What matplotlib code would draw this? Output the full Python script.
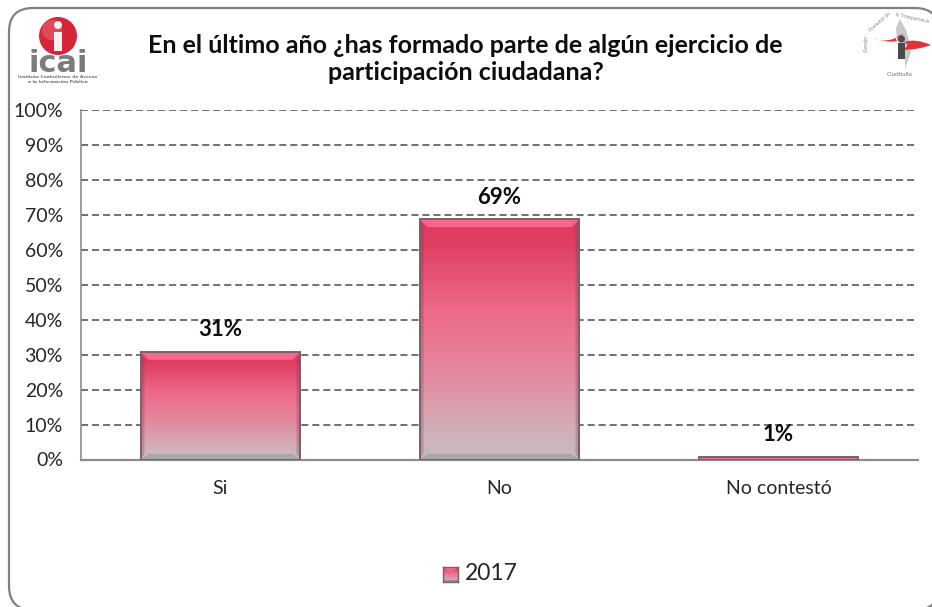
import numpy as np
import matplotlib
matplotlib.use("Agg")
import matplotlib.pyplot as plt
from matplotlib.colors import LinearSegmentedColormap
from matplotlib.patches import FancyBboxPatch, Rectangle, Circle, Polygon, PathPatch
from matplotlib.path import Path

categories = ["Si", "No", "No contestó"]
values = [30.8, 68.8, 0.8]
labels = ["31%", "69%", "1%"]
series_name = "2017"
yticks = list(range(0, 101, 10))
title = "En el último año ¿has formado parte de algún ejercicio de\nparticipación ciudadana?"

W, H = 932, 607
plt.rcParams["font.family"] = ["Lato", "DejaVu Sans"]
fig = plt.figure(figsize=(W / 100, H / 100), dpi=100, facecolor="white")

def fx(x): return x / W
def fy(y): return 1 - y / H

bg = fig.add_axes([0, 0, 1, 1], zorder=0)
bg.set_xlim(0, W); bg.set_ylim(H, 0); bg.axis("off")
bg.add_patch(FancyBboxPatch((9, 8), 930, 602, boxstyle="round,pad=0,rounding_size=24",
                            fc="white", ec="#808080", lw=1.6))

# left logo
bg.add_patch(Circle((58, 36), 19, fc="#d5263a", ec="none"))
bg.add_patch(Circle((52, 30), 10, fc="#ee6b78", ec="none", alpha=.5))
bg.add_patch(Rectangle((54, 32), 7.5, 19, fc="#f2f2f2", ec="none"))
bg.add_patch(Circle((58, 25), 4, fc="#f2f2f2", ec="none"))
bg.text(58.5, 72, "icai", ha="center", va="baseline", fontsize=22, fontweight="bold",
        color="#7c7c7c", family=["DejaVu Sans"])
bg.text(58, 76.5, "Instituto Coahuilense de Acceso", ha="center", va="center", fontsize=3.2,
        fontweight="bold", color="#707070", family=["DejaVu Sans"])
bg.text(58, 82, "a la Información Pública", ha="center", va="center", fontsize=3.2,
        fontweight="bold", color="#707070", family=["DejaVu Sans"])

# right logo
def swoosh(verts, col):
    codes = [Path.MOVETO] + [Path.CURVE3] * (len(verts) - 1)
    bg.add_patch(PathPatch(Path(verts, codes), fc=col, ec="none"))

bg.add_patch(Polygon([(900, 19), (906, 30), (909, 40), (911, 52), (905, 69), (905, 52),
                      (897, 40), (896, 28)], fc="#c9c9c9", ec="none"))
swoosh([(873, 39), (890, 43), (897, 41), (893, 36), (904, 34), (888, 44), (873, 39)], "#e2333a")
swoosh([(931, 45), (915, 38), (904, 42), (912, 46), (901, 50), (918, 50), (931, 45)], "#e2333a")
bg.add_patch(Rectangle((898, 43), 7, 16, fc="#4a4a4a", ec="none"))
bg.add_patch(Circle((901.5, 39), 3.5, fc="#4a4a4a", ec="none"))
bg.text(900, 74, "Ciudhulla", ha="center", va="center", fontsize=4.5, color="#777777")
bg.text(866, 44, "Consejo", ha="center", va="center", fontsize=3.4, color="#888888", rotation=90)
bg.text(880, 22, "Promotor de", ha="center", va="center", fontsize=3.4, color="#888888", rotation=42)
bg.text(912, 18, "la Transparencia", ha="center", va="center", fontsize=3.4, color="#888888", rotation=-12)

fig.text(fx(465.5), fy(59), title, ha="center", va="center", fontsize=18, fontweight="bold",
         color="#0d0d0d", linespacing=1.2, zorder=5)

# chart
ax = fig.add_axes([fx(81), fy(459.5), fx(918 - 81), (459.5 - 110) / H], zorder=2)
ax.patch.set_alpha(0)
x = np.arange(len(categories))
ax.set_ylim(0, 100)
ax.set_yticks(yticks)
ax.set_yticklabels([f"{v}%" for v in yticks], fontsize=14, color="#262626")
ax.set_xticks(x)
ax.set_xticklabels(categories, fontsize=14, color="#262626")
ax.tick_params(axis="both", length=0)
ax.tick_params(axis="y", pad=13)
ax.tick_params(axis="x", pad=15)
ax.yaxis.grid(True, color="#666666", lw=1.3, ls=(0, (3.9, 2.2)))
ax.set_axisbelow(True)
for side in ["top", "right"]:
    ax.spines[side].set_visible(False)
ax.spines["left"].set_color("#8c8c8c")
ax.spines["bottom"].set_color("#8c8c8c")
ax.spines["left"].set_linewidth(1.2)
ax.spines["bottom"].set_linewidth(1.6)

cmap = LinearSegmentedColormap.from_list("bar", [
    (0.0, "#c2bcbe"), (0.08, "#cdb6bc"), (0.35, "#e38aa0"), (0.62, "#ee6a88"),
    (0.9, "#df3f63"), (1.0, "#e23a60")])
grad = np.linspace(1, 0, 256).reshape(-1, 1)
bw = 0.573
bars = ax.bar(x, values, bw, fc="none", ec="#7b6068", lw=1.4, zorder=5)
dx, dy = 8 / 279, 8 / 3.495
for b in bars:
    l, w, h = b.get_x(), b.get_width(), b.get_height()
    r = l + w
    ax.imshow(grad, cmap=cmap, vmin=0, vmax=1, extent=(l, r, 0, h), aspect="auto", zorder=3,
              interpolation="bilinear")
    if h > 5:
        ax.add_patch(Polygon([(l, h), (r, h), (r - dx, h - dy), (l + dx, h - dy)],
                             fc="#f8668c", ec="none", zorder=3.5))
        ax.add_patch(Polygon([(l, 0), (r, 0), (r - dx, dy * .7), (l + dx, dy * .7)],
                             fc="#aaa7a8", ec="none", zorder=3.5))
        ax.add_patch(Polygon([(l, 0), (l + dx * .5, dy * .7), (l + dx * .5, h - dy), (l, h)],
                             fc="#7a2a40", alpha=.25, ec="none", zorder=3.6))
        ax.add_patch(Polygon([(r, 0), (r - dx * .5, dy * .7), (r - dx * .5, h - dy), (r, h)],
                             fc="#7a2a40", alpha=.25, ec="none", zorder=3.6))
ax.set_xlim(-0.5, 2.5); ax.set_ylim(0, 100)

for xi, v, s in zip(x, values, labels):
    ax.annotate(s, (xi, v), xytext=(0, 22), textcoords="offset pixels", ha="center", va="center",
                fontsize=16, fontweight="bold", color="#0d0d0d", annotation_clip=False)

# legend
lg = fig.add_axes([fx(443), fy(582), 15 / W, 15 / H], zorder=3)
lg.imshow(grad, cmap=cmap, vmin=0, vmax=1, aspect="auto")
lg.add_patch(Polygon([(-0.5, -0.5), (0.5, -0.5), (0, 100)], fc="#f8668c", ec="none"))
lg.add_patch(Rectangle((-0.5, 215), 1, 41, fc="#8f8a8c", ec="none"))
lg.set_xlim(-0.5, 0.5); lg.set_ylim(255.5, -0.5)
lg.set_xticks([]); lg.set_yticks([])
for s in lg.spines.values():
    s.set_color("#7b6068"); s.set_linewidth(1)
fig.text(fx(465), fy(574), series_name, fontsize=16.5, va="center", ha="left", color="#262626")

fig.savefig("out.png", dpi=100)
